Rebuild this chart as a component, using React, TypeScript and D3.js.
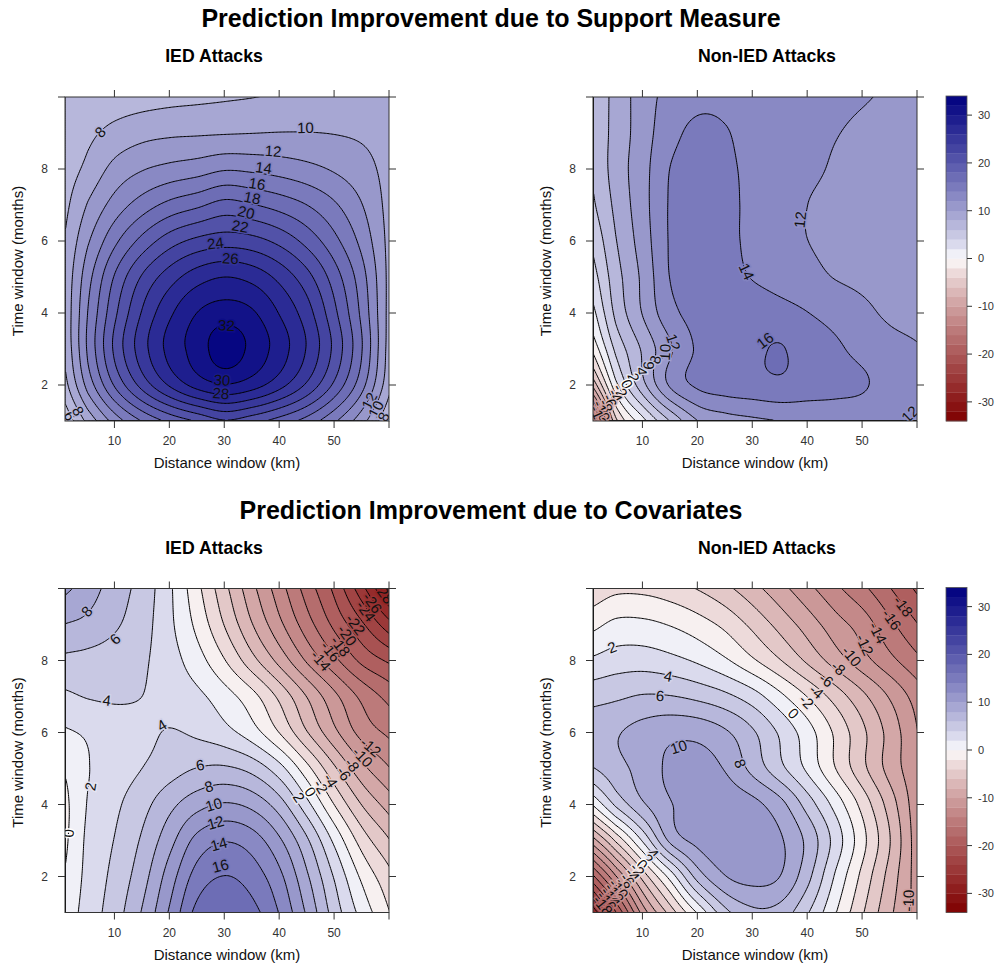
import React, { useEffect, useRef } from 'react';
import * as d3 from 'd3';

const distKm = [1, 5, 10, 15, 20, 25, 30, 35, 40, 45, 50, 55, 60];
const timeMonths = [1, 2, 3, 4, 5, 6, 7, 8, 9, 10];

// rows follow timeMonths (bottom to top), columns follow distKm
const supportIED = [
  [4.7, 8.7, 13.0, 16.3, 18.7, 20.4, 22.0, 20.9, 19.3, 17.3, 14.4, 10.8, 6.2],
  [7.5, 12.8, 18.4, 22.9, 26.4, 28.9, 30.0, 29.0, 26.8, 23.7, 19.6, 14.7, 8.5],
  [8.5, 14.3, 20.5, 25.2, 28.7, 30.9, 33.2, 31.4, 29.0, 25.8, 21.4, 16.0, 9.0],
  [8.7, 14.0, 19.6, 24.2, 27.6, 30.0, 30.9, 30.2, 27.8, 24.8, 20.4, 15.4, 9.2],
  [8.6, 13.2, 18.2, 22.2, 25.0, 27.0, 27.9, 27.2, 25.3, 22.6, 18.9, 14.7, 9.3],
  [8.2, 11.7, 15.5, 18.6, 21.0, 22.4, 23.0, 22.6, 21.3, 19.2, 16.5, 13.3, 9.3],
  [7.55, 10.1, 12.8, 14.9, 16.5, 17.5, 18.6, 18.0, 17.1, 15.9, 14.2, 12.0, 9.25],
  [7.0, 8.5, 10.6, 11.8, 12.5, 13.0, 13.7, 13.5, 13.1, 12.5, 11.7, 10.7, 9.3],
  [6.5, 7.5, 8.6, 9.3, 9.6, 9.7, 9.8, 9.9, 10.0, 10.0, 9.9, 9.7, 9.3],
  [6.2, 6.4, 6.7, 7.0, 7.3, 7.5, 7.7, 7.9, 8.2, 8.5, 8.8, 9.0, 9.1],
];

const supportNonIED = [
  [-18, -4.5, 1.5, 6.3, 10.1, 11.2, 11.7, 12.1, 12.5, 12.8, 12.8, 12.4, 11.8],
  [-7, 1.5, 7.5, 12.4, 14.4, 15.0, 15.3, 15.6, 15.0, 14.6, 14.2, 13.2, 12.5],
  [-1.2, 4.5, 8.4, 11.8, 14.3, 15.0, 15.6, 16.1, 15.0, 14.3, 13.4, 12.6, 12.1],
  [1.6, 6.5, 10.2, 13.4, 14.7, 14.8, 14.9, 14.6, 14.0, 13.3, 12.4, 11.7, 11.4],
  [3.3, 7.2, 10.5, 14.1, 14.7, 14.5, 13.9, 13.3, 12.6, 11.9, 11.6, 11.5, 11.4],
  [4.6, 7.9, 11.0, 14.2, 14.8, 14.4, 13.6, 12.8, 12.0, 11.6, 11.3, 11.2, 11.1],
  [5.8, 8.5, 11.3, 14.2, 14.8, 14.4, 13.6, 12.9, 12.0, 11.5, 11.1, 10.9, 10.8],
  [6.3, 8.9, 11.3, 14.05, 14.8, 14.3, 13.6, 13.0, 12.4, 11.8, 11.3, 11.0, 10.8],
  [6.6, 8.7, 11.1, 13.3, 14.5, 14.1, 13.4, 12.9, 12.5, 12.1, 11.6, 11.2, 10.9],
  [6.8, 8.6, 11.1, 12.6, 13.3, 13.5, 13.4, 13.2, 12.9, 12.6, 12.2, 11.7, 11.3],
];

const covIED = [
  [0.8, 2.9, 5.1, 8.2, 12.3, 16.6, 17.6, 16.6, 13.8, 9.6, 5.0, 1.2, -2.0],
  [0.2, 2.6, 4.6, 7.2, 11.0, 14.8, 16.0, 15.0, 12.4, 8.2, 3.7, -0.5, -3.5],
  [-0.3, 2.4, 4.1, 6.3, 9.3, 12.6, 13.8, 12.9, 10.2, 6.2, 1.4, -3.0, -6.0],
  [-0.4, 2.1, 3.6, 5.3, 7.4, 9.2, 10.1, 9.3, 6.8, 2.5, -2.2, -6.2, -9.0],
  [0.3, 1.9, 3.0, 4.0, 5.1, 6.0, 6.2, 5.2, 2.6, -1.5, -5.8, -9.5, -12.0],
  [1.8, 2.3, 3.0, 3.5, 4.1, 3.6, 2.6, 0.8, -2.2, -6.0, -9.6, -12.8, -14.5],
  [3.7, 4.15, 4.3, 4.0, 3.2, 2.4, 0.8, -1.4, -4.6, -8.2, -11.6, -14.6, -16.8],
  [5.6, 5.4, 5.0, 4.3, 2.8, 0.8, -2.0, -5.4, -8.8, -12.4, -15.6, -18.6, -20.5],
  [8.0, 7.5, 6.3, 4.8, 2.4, -0.6, -4.2, -8.0, -11.6, -15.2, -18.6, -21.8, -25.5],
  [10.5, 9.0, 7.0, 5.2, 2.3, -1.5, -5.5, -9.5, -13.2, -17.0, -20.6, -25.5, -31.0],
];

const covNonIED = [
  [-27, -20, -11, -5, 0.5, 5.5, 7.6, 7.2, 4.2, 0.2, -3.8, -7.6, -10.8],
  [-18, -12, -5, 1.0, 7.0, 10.0, 10.7, 10.0, 6.6, 1.8, -2.6, -6.8, -11.0],
  [-8.5, -3.5, 2.5, 8.6, 10.6, 11.2, 11.0, 10.2, 7.4, 3.2, -1.4, -6.0, -11.2],
  [0.5, 4.5, 7.8, 9.9, 10.9, 11.1, 10.5, 8.6, 5.0, 1.2, -2.8, -7.0, -11.4],
  [6.0, 7.3, 8.8, 10.4, 10.8, 9.8, 7.3, 4.5, 1.5, -2.0, -5.5, -8.8, -11.6],
  [7.2, 7.8, 8.7, 9.4, 9.3, 8.2, 6.2, 3.6, 0.8, -2.4, -5.6, -8.8, -12.0],
  [5.2, 5.6, 6.1, 6.0, 5.4, 4.4, 2.8, 0.4, -2.2, -4.9, -7.6, -10.3, -13.0],
  [2.3, 2.9, 3.0, 2.5, 1.6, 0.2, -1.8, -4.0, -6.5, -9.0, -11.3, -13.5, -15.6],
  [-0.6, 0.4, 0.4, -0.2, -1.2, -2.6, -4.6, -6.8, -9.0, -11.2, -13.0, -15.6, -18.0],
  [-3.5, -2.6, -2.6, -3.2, -4.2, -5.6, -7.4, -9.4, -11.5, -13.6, -15.6, -18.0, -20.5],
];

// contour labels: [km, months, level]
const supportIEDLabels = [
  [7.4, 9.03, 8], [44.8, 9.15, 10], [38.9, 8.5, 12], [37.2, 8.04, 14], [36.0, 7.59, 16],
  [35.1, 7.2, 18], [34.0, 6.8, 20], [32.9, 6.41, 22], [28.4, 5.94, 24], [31.1, 5.52, 26],
  [30.4, 3.66, 32], [29.6, 2.14, 30], [29.4, 1.77, 28],
  [1.9, 1.14, 6], [3.4, 1.28, 8], [56.4, 1.56, 12], [57.6, 1.33, 10], [59.0, 1.12, 8],
];
const supportNonIEDLabels = [
  [38.7, 6.59, 12], [29.0, 5.15, 14], [32.3, 3.24, 16], [15.65, 3.19, 12], [14.1, 2.91, 10],
  [58.7, 1.19, 12], [12.3, 2.7, 8], [11.1, 2.54, 6], [9.9, 2.38, 4], [8.4, 2.21, 2],
  [7.2, 2.03, 0], [6.0, 1.84, -2], [5.1, 1.7, -4], [4.1, 1.56, -6], [3.4, 1.42, -8],
  [2.6, 1.28, -10], [2.0, 1.14, -12],
];
const covIEDLabels = [
  [4.95, 9.37, 8], [10.1, 8.6, 6], [8.6, 6.9, 4], [18.6, 6.2, 4], [5.6, 4.5, 2], [1.6, 3.2, 0],
  [25.6, 5.1, 6], [27.2, 4.5, 8], [28.1, 4.0, 10], [28.4, 3.5, 12], [29.0, 2.9, 14], [29.3, 2.3, 16],
  [47.6, 8.0, -14], [49.4, 8.25, -16], [51.2, 8.4, -18], [52.4, 8.7, -20], [53.9, 9.0, -22],
  [55.8, 9.37, -24], [57.0, 9.6, -26], [59.1, 9.87, -28],
  [43.6, 4.2, 2], [45.7, 4.35, 0], [47.6, 4.5, -2], [49.4, 4.67, -4], [51.8, 4.86, -6],
  [53.3, 5.1, -8], [55.2, 5.32, -10], [56.7, 5.6, -12],
];
const covNonIEDLabels = [
  [4.45, 8.37, 2], [14.7, 7.57, 4], [13.2, 7.02, 6], [16.6, 5.6, 10], [27.8, 5.14, 8],
  [37.5, 6.53, 0], [39.9, 6.86, -2], [41.7, 7.14, -4], [43.5, 7.46, -6], [45.7, 7.79, -8],
  [48.1, 8.12, -10], [50.5, 8.44, -12], [52.9, 8.77, -14], [55.4, 9.14, -16], [57.5, 9.51, -18],
  [58.4, 1.33, -10],
  [12.0, 2.63, 4], [11.0, 2.48, 2], [10.0, 2.33, 0], [9.1, 2.19, -2], [8.2, 2.05, -4],
  [7.3, 1.91, -6], [6.5, 1.78, -8], [5.7, 1.66, -10], [4.9, 1.54, -12], [4.2, 1.43, -14],
  [3.5, 1.32, -16], [2.8, 1.2, -18],
];

const xTicks = [10, 20, 30, 40, 50, 60];
const xTickLabels = [10, 20, 30, 40, 50];
const yTicks = [2, 4, 6, 8, 10];
const yTickLabels = [2, 4, 6, 8];
const keyTicks = [-30, -20, -10, 0, 10, 20, 30];
const levels = d3.range(-34, 35, 2);

const FONT = 'Liberation Sans, Arial, Helvetica, sans-serif';
const PW = 324;
const PH = 324;

const blueEnd = '#00007f';
const redEnd = '#7f0000';
const colorAt = (v: number) => {
  const t = Math.pow(Math.min(1, Math.abs(v) / 34), 0.8);
  return v >= 0 ? d3.interpolateRgb('#ffffff', blueEnd)(t) : d3.interpolateRgb('#ffffff', redEnd)(t);
};

const kmIndex = (km: number) => (km <= 5 ? (km - 1) / 4 : 1 + (km - 5) / 5);

// smooth surface through the read values (Catmull-Rom)
function makeSampler(grid: number[][]) {
  const nr = grid.length;
  const nc = grid[0].length;
  const at = (r: number, c: number): number => {
    if (r < 0) return 2 * at(0, c) - at(1, c);
    if (r > nr - 1) return 2 * at(nr - 1, c) - at(nr - 2, c);
    if (c < 0) return 2 * at(r, 0) - at(r, 1);
    if (c > nc - 1) return 2 * at(r, nc - 1) - at(r, nc - 2);
    return grid[r][c];
  };
  const cr = (p0: number, p1: number, p2: number, p3: number, t: number) =>
    0.5 * (2 * p1 + (-p0 + p2) * t + (2 * p0 - 5 * p1 + 4 * p2 - p3) * t * t + (-p0 + 3 * p1 - 3 * p2 + p3) * t * t * t);
  return (km: number, m: number) => {
    const fx = kmIndex(km);
    const fy = m - 1;
    const c = Math.max(0, Math.min(nc - 2, Math.floor(fx)));
    const r = Math.max(0, Math.min(nr - 2, Math.floor(fy)));
    const tx = fx - c;
    const ty = fy - r;
    const rows = [-1, 0, 1, 2].map(dr => cr(at(r + dr, c - 1), at(r + dr, c), at(r + dr, c + 1), at(r + dr, c + 2), tx));
    return cr(rows[0], rows[1], rows[2], rows[3], ty);
  };
}

const panels = [
  { grid: supportIED, labels: supportIEDLabels, left: 65, top: 97, name: 'IED Attacks', nameX: 214, nameY: 62, key: false },
  { grid: supportNonIED, labels: supportNonIEDLabels, left: 593, top: 97, name: 'Non-IED Attacks', nameX: 767, nameY: 62, key: true },
  { grid: covIED, labels: covIEDLabels, left: 65, top: 588.5, name: 'IED Attacks', nameX: 214, nameY: 554, key: false },
  { grid: covNonIED, labels: covNonIEDLabels, left: 593, top: 588.5, name: 'Non-IED Attacks', nameX: 767, nameY: 554, key: true },
];

const App = () => {
  const svgRef = useRef<SVGSVGElement>(null);

  useEffect(() => {
    const svg = d3.select(svgRef.current);
    svg.selectAll('*').remove();

    svg.append('rect').attr('width', 997).attr('height', 967).attr('fill', '#fff');

    svg.append('text')
      .attr('x', 491).attr('y', 27).attr('text-anchor', 'middle')
      .attr('font-family', FONT).attr('font-weight', 'bold').attr('font-size', 25)
      .text('Prediction Improvement due to Support Measure');
    svg.append('text')
      .attr('x', 491).attr('y', 519).attr('text-anchor', 'middle')
      .attr('font-family', FONT).attr('font-weight', 'bold').attr('font-size', 25)
      .text('Prediction Improvement due to Covariates');

    const nx = 237;
    const ny = 181;

    panels.forEach((p, pi) => {
      const x = d3.scaleLinear().domain([1, 60]).range([p.left, p.left + PW]);
      const y = d3.scaleLinear().domain([1, 10]).range([p.top + PH, p.top]);
      const f = makeSampler(p.grid);

      const values = new Array(nx * ny);
      for (let j = 0; j < ny; j++) {
        for (let i = 0; i < nx; i++) values[j * nx + i] = f(1 + i * 0.25, 1 + j * 0.05);
      }
      const contours = d3.contours().size([nx, ny]).thresholds(levels)(values);
      const toPath = (mp: any) => mp.coordinates.map((poly: number[][][]) => poly.map(ring =>
        'M' + ring.map(([cx, cy]) => `${x(1 + cx * 0.25).toFixed(2)},${y(1 + cy * 0.05).toFixed(2)}`).join('L') + 'Z'
      ).join('')).join('');

      const clipId = `clip-${pi}`;
      svg.append('clipPath').attr('id', clipId)
        .append('rect').attr('x', p.left).attr('y', p.top).attr('width', PW).attr('height', PH);

      const g = svg.append('g').attr('clip-path', `url(#${clipId})`);
      g.selectAll('path.band')
        .data(contours)
        .enter().append('path')
        .attr('class', 'band')
        .attr('d', d => toPath(d))
        .attr('fill', d => colorAt(d.value + 1))
        .attr('fill-rule', 'evenodd');

      const vmin = d3.min(values) as number;
      g.selectAll('path.line')
        .data(contours.filter(c => c.value > vmin && c.coordinates.length))
        .enter().append('path')
        .attr('class', 'line')
        .attr('d', d => toPath(d))
        .attr('fill', 'none')
        .attr('stroke', '#000')
        .attr('stroke-width', 1);

      // contour labels, turned along the line
      p.labels.forEach(([km, m, v]) => {
        const h = 0.3;
        const k = 0.04;
        const dX = (f(km + h, m) - f(km - h, m)) / (x(km + h) - x(km - h));
        const dY = (f(km, m + k) - f(km, m - k)) / (y(m + k) - y(m - k));
        let ang = (Math.atan2(-dX, dY) * 180) / Math.PI;
        if (ang > 90) ang -= 180;
        if (ang < -90) ang += 180;
        g.append('text')
          .attr('transform', `translate(${x(km)},${y(m)}) rotate(${ang})`)
          .attr('text-anchor', 'middle')
          .attr('dy', '0.36em')
          .attr('font-family', FONT)
          .attr('font-size', 15)
          .attr('fill', '#111')
          .attr('stroke', colorAt(v))
          .attr('stroke-width', 3)
          .attr('paint-order', 'stroke')
          .text(v);
      });

      // frame and ticks
      svg.append('rect')
        .attr('x', p.left).attr('y', p.top).attr('width', PW).attr('height', PH)
        .attr('fill', 'none').attr('stroke', '#333').attr('stroke-width', 1);

      const ticks = svg.append('g').attr('stroke', '#333').attr('stroke-width', 1);
      xTicks.forEach(t => {
        ticks.append('line').attr('x1', x(t)).attr('x2', x(t)).attr('y1', p.top + PH).attr('y2', p.top + PH + 7);
        ticks.append('line').attr('x1', x(t)).attr('x2', x(t)).attr('y1', p.top).attr('y2', p.top - 7);
      });
      yTicks.forEach(t => {
        ticks.append('line').attr('x1', p.left).attr('x2', p.left - 7).attr('y1', y(t)).attr('y2', y(t));
        ticks.append('line').attr('x1', p.left + PW).attr('x2', p.left + PW + 7).attr('y1', y(t)).attr('y2', y(t));
      });

      xTickLabels.forEach(t => {
        svg.append('text')
          .attr('x', x(t)).attr('y', p.top + PH + 24).attr('text-anchor', 'middle')
          .attr('font-family', FONT).attr('font-size', 12).attr('fill', '#333')
          .text(t);
      });
      yTickLabels.forEach(t => {
        svg.append('text')
          .attr('x', p.left - 17).attr('y', y(t)).attr('dy', '0.36em').attr('text-anchor', 'end')
          .attr('font-family', FONT).attr('font-size', 12).attr('fill', '#333')
          .text(t);
      });

      svg.append('text')
        .attr('x', p.left + PW / 2).attr('y', p.top + PH + 47).attr('text-anchor', 'middle')
        .attr('font-family', FONT).attr('font-size', 15).attr('fill', '#111')
        .text('Distance window (km)');
      svg.append('text')
        .attr('transform', `translate(${p.left - 42},${p.top + PH / 2 + 2}) rotate(-90)`)
        .attr('text-anchor', 'middle')
        .attr('font-family', FONT).attr('font-size', 15).attr('fill', '#111')
        .text('Time window (months)');

      svg.append('text')
        .attr('x', p.nameX).attr('y', p.nameY).attr('text-anchor', 'middle')
        .attr('font-family', FONT).attr('font-weight', 'bold').attr('font-size', 17.7)
        .text(p.name);

      // colour key
      if (p.key) {
        const kx = 946;
        const kw = 21;
        const ky = d3.scaleLinear().domain([-34, 34]).range([p.top + PH, p.top - 1]);
        const key = svg.append('g');
        key.selectAll('rect')
          .data(levels.slice(0, -1))
          .enter().append('rect')
          .attr('x', kx).attr('width', kw)
          .attr('y', d => ky(d + 2))
          .attr('height', d => ky(d) - ky(d + 2) + 0.3)
          .attr('fill', d => colorAt(d + 1));
        key.append('rect')
          .attr('x', kx).attr('y', ky(34)).attr('width', kw).attr('height', ky(-34) - ky(34))
          .attr('fill', 'none').attr('stroke', '#555').attr('stroke-width', 0.8);
        keyTicks.forEach(t => {
          key.append('line').attr('x1', kx + kw).attr('x2', kx + kw + 5).attr('y1', ky(t)).attr('y2', ky(t))
            .attr('stroke', '#333');
          key.append('text')
            .attr('x', kx + kw + 11).attr('y', ky(t)).attr('dy', '0.36em')
            .attr('font-family', FONT).attr('font-size', 11).attr('fill', '#333')
            .text(t);
        });
      }
    });
  }, []);

  return (
    <svg
      ref={svgRef}
      width={997}
      height={967}
      style={{ position: 'absolute', left: 0, top: 0, display: 'block' }}
    />
  );
};

export default App;
